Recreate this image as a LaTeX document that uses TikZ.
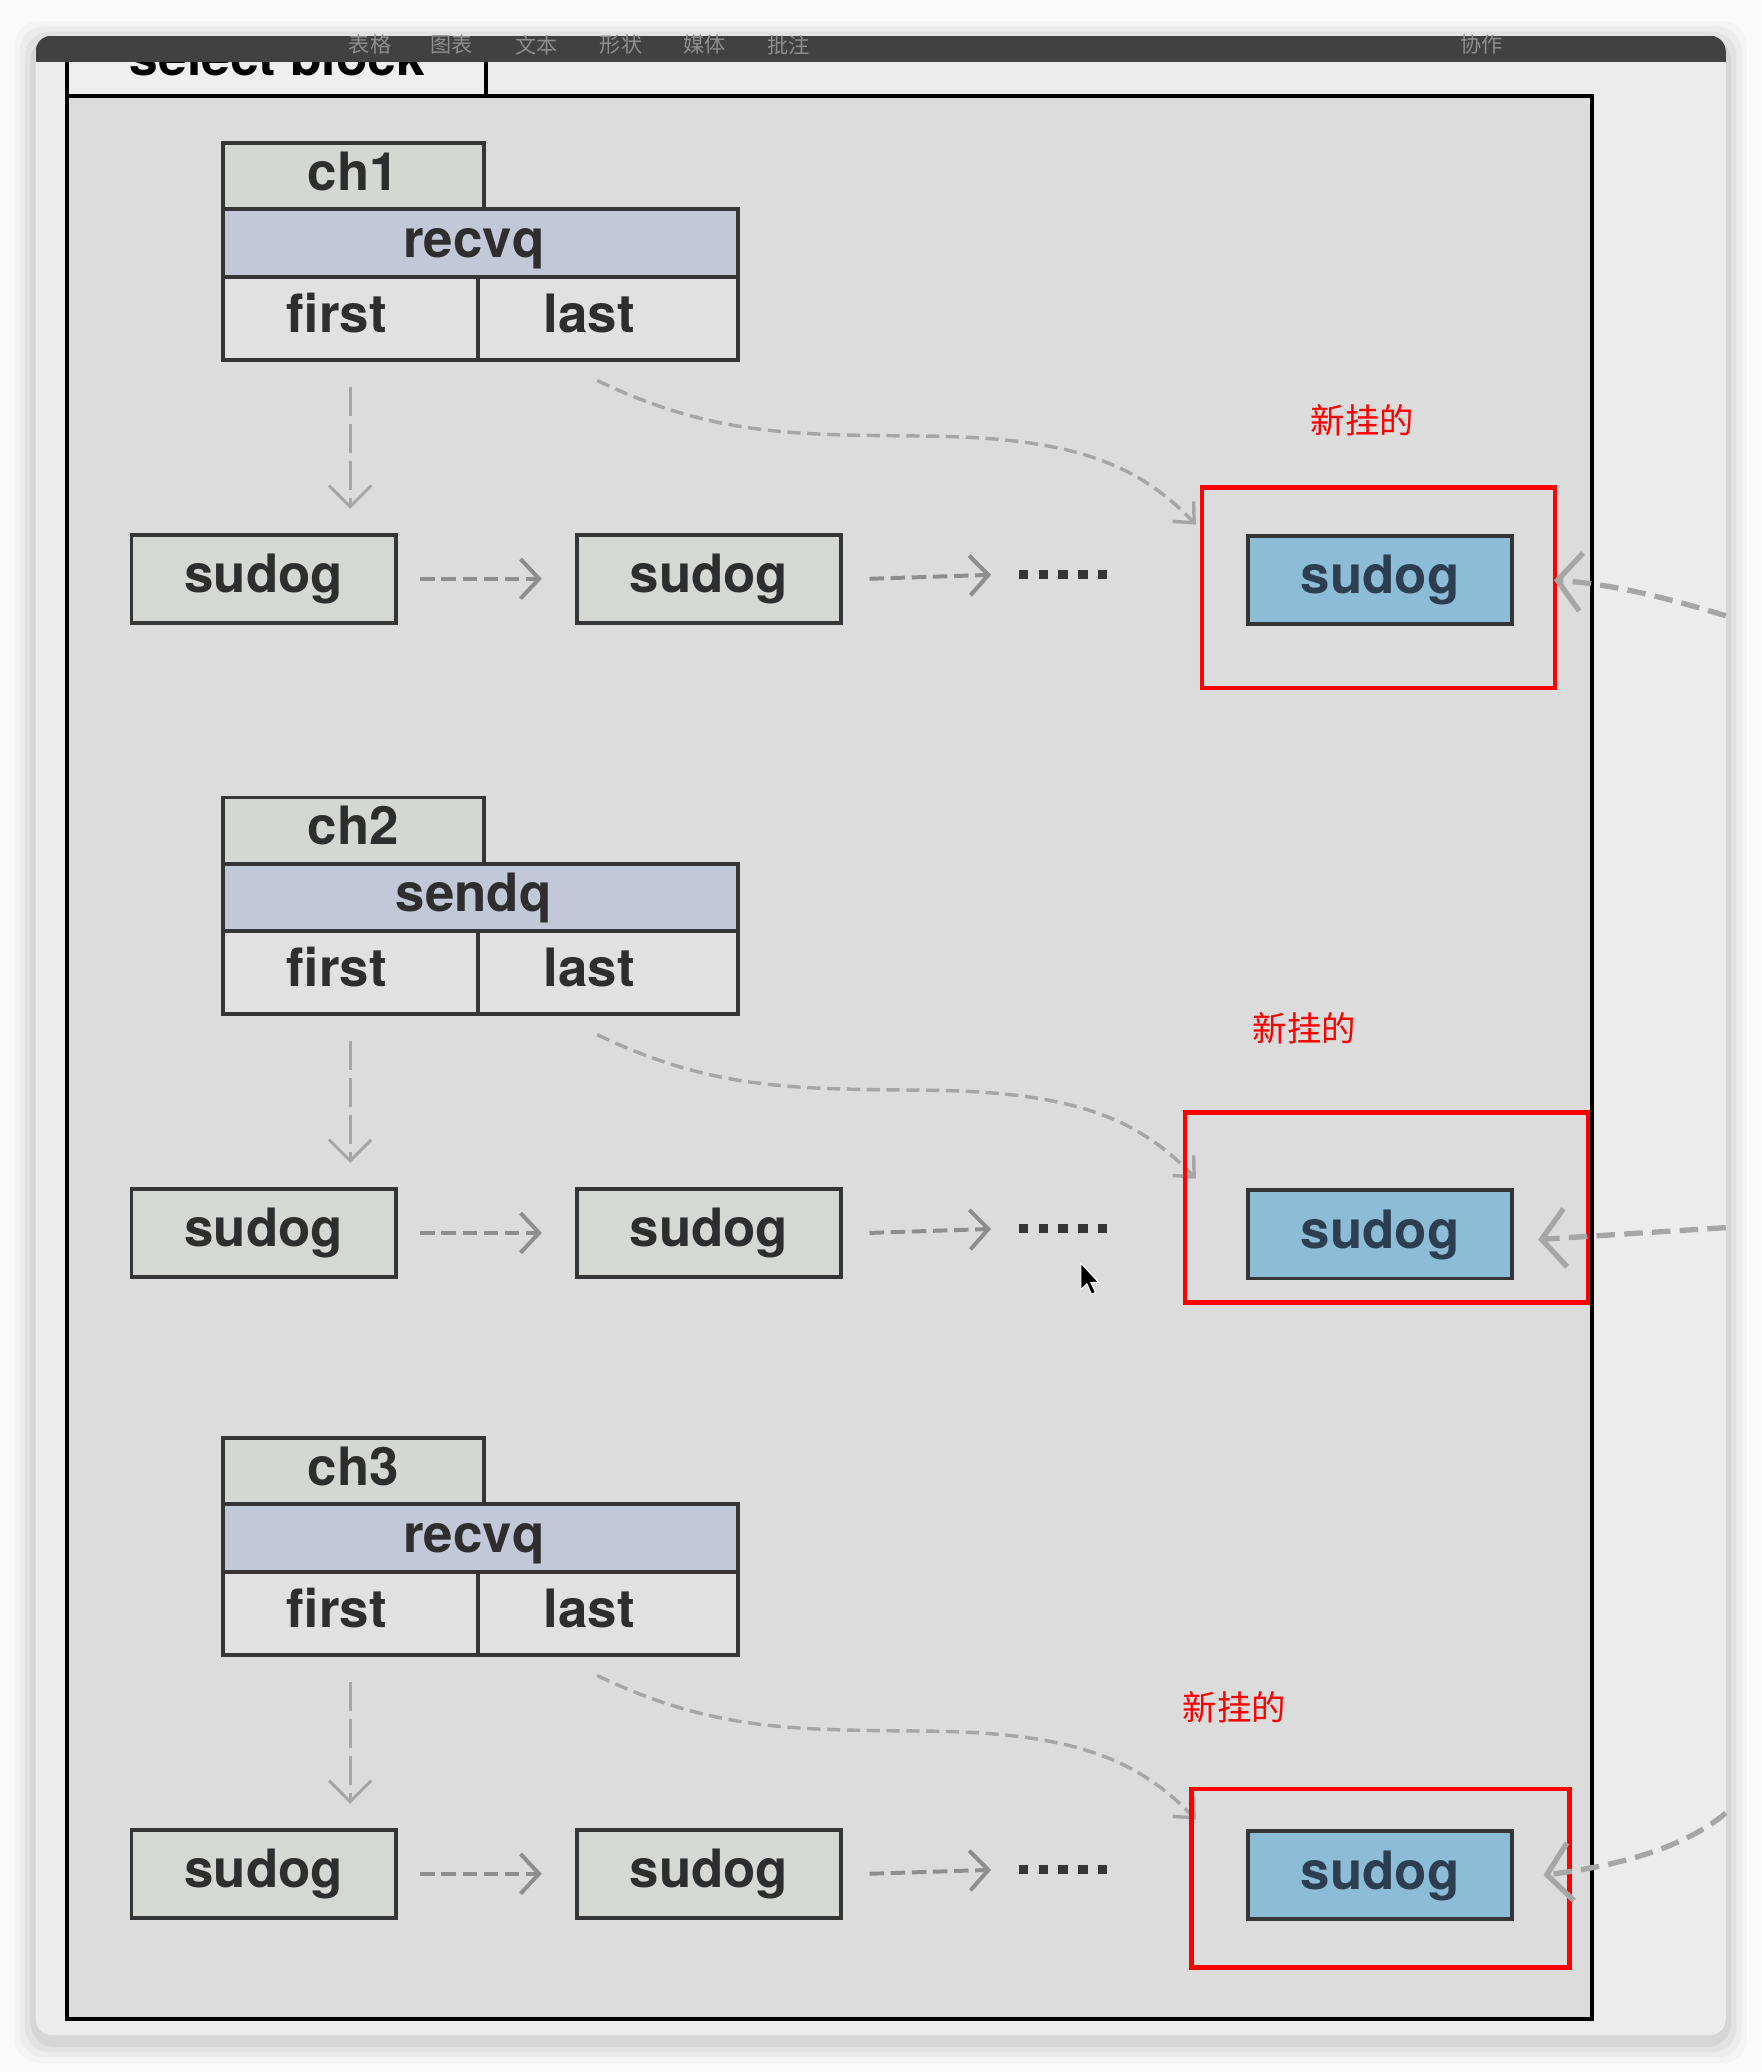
\documentclass[tikz,border=0pt]{standalone}
\usepackage{fontspec}
\setmainfont{TeX Gyre Heros}
\newfontfamily\cjkfont{Noto Sans CJK SC}
\usetikzlibrary{arrows.meta}
\definecolor{pagebg}{HTML}{FAFAFA}
\definecolor{framebg}{HTML}{ECECEC}
\definecolor{barbg}{HTML}{414141}
\definecolor{menutext}{HTML}{8E8E8E}
\definecolor{tabbg}{HTML}{EFEFEF}
\definecolor{panelbg}{HTML}{DCDCDC}
\definecolor{chfill}{HTML}{D5D7D3}
\definecolor{qfill}{HTML}{C3C8D8}
\definecolor{flfill}{HTML}{E1E1E1}
\definecolor{sgfill}{HTML}{D6D8D4}
\definecolor{bluefill}{HTML}{8DBDD6}
\definecolor{boxline}{HTML}{353535}
\definecolor{boxtext}{HTML}{2E2E2E}
\definecolor{bluetext}{HTML}{2C3E50}
\definecolor{arrowgray}{HTML}{8E8E8E}
\definecolor{lightarrow}{HTML}{A6A6A6}
\definecolor{annored}{HTML}{FF0000}
\tikzset{
  cell/.style={draw=boxline, line width=3pt, inner sep=0pt, anchor=north west,
    text=boxtext, font=\fontsize{40}{42}\selectfont\bfseries,
    text height=29pt, text depth=8pt},
  chcell/.style={cell, fill=chfill},
  qcell/.style={cell, fill=qfill},
  flcell/.style={cell, fill=flfill},
  sgcell/.style={cell, fill=sgfill},
  bluecell/.style={cell, fill=bluefill, text=bluetext},
  redbox/.style={draw=annored, line width=3.5pt, inner sep=0pt, anchor=north west},
  annolabel/.style={text=annored, font=\cjkfont\fontsize{26}{28}\selectfont, inner sep=0pt},
  menulabel/.style={text=menutext, font=\cjkfont\fontsize{16}{16}\selectfont, inner sep=0pt},
  harrow/.style={draw=arrowgray, line width=3pt, dash pattern=on 11pt off 5pt,
    -{Straight Barb[length=14pt,width=30pt,line width=3pt]}},
  varrow/.style={draw=lightarrow, line width=2pt, dash pattern=on 22pt off 6pt,
    -{Straight Barb[length=16pt,width=32pt,line width=2.2pt]}},
  carrow/.style={draw=lightarrow, line width=2.6pt, dash pattern=on 10pt off 5pt,
    -{Straight Barb[length=12pt,width=22pt,line width=2.6pt]}},
  inarrow/.style={draw=lightarrow, line width=4pt, dash pattern=on 14pt off 7pt,
    -{Straight Barb[length=18pt,width=44pt,line width=4pt]}},
}
\begin{document}
\begin{tikzpicture}[x=1pt,y=-1pt]
\useasboundingbox (0,0) rectangle (1333,1568);
\fill[pagebg] (0,0) rectangle (1333,1568);
% shadow of the window
\foreach \s/\o in {16/0.025,12/0.03,8/0.04,4/0.05}
  \fill[black,opacity=\o,rounded corners=18] (27-\s,27-\s+5) rectangle (1306+\s,1540+\s+5);
% window
\fill[framebg,rounded corners=12] (27,27) rectangle (1306,1540);
\begin{scope}
  \clip[rounded corners=12] (27,27) rectangle (1306,1540);
  \fill[barbg] (27,27) rectangle (1306,47);
\end{scope}
% menu labels
\node[menulabel] (m1) at (280,34) {表格};
\node[menulabel] (m2) at (342,34) {图表};
\node[menulabel] (m3) at (406,34) {文本};
\node[menulabel] (m4) at (470,34) {形状};
\node[menulabel] (m5) at (533,34) {媒体};
\node[menulabel] (m6) at (597,34) {批注};
\node[menulabel] (m7) at (1121,34) {协作};
% tab "select block" (cut by the bar)
\fill[tabbg] (52,47) rectangle (368,73);
\begin{scope}
  \clip (52,47) rectangle (368,73);
  \node[anchor=base west, inner sep=0pt, text=black,
        font=\fontsize{39}{40}\selectfont\bfseries] (tabtext) at (98,57) {select block};
\end{scope}
\draw[black,line width=3pt] (368,47) -- (368,73);
% main panel
\draw[black,line width=3pt,fill=panelbg] (51,47) -- (51,1528) -- (1205,1528) -- (1205,73) -- (51,73);
\draw[black,line width=3pt] (51,47) -- (51,1528);
% channels
\foreach \k/\dy/\q in {1/0/recvq,2/495/sendq,3/980/recvq}{
  \node[chcell, minimum width=198pt, minimum height=50pt] (ch\k) at (167,107+\dy) {ch\k};
  \node[qcell, minimum width=390pt, minimum height=51pt] (q\k) at (167,157+\dy) {\hspace*{-10pt}\q};
  \node[flcell, minimum width=193pt, minimum height=63pt] (first\k) at (167,208+\dy) {\hspace*{-20pt}first};
  \node[flcell, minimum width=197pt, minimum height=63pt] (last\k) at (360,208+\dy) {\hspace*{-28pt}last};
  \node[sgcell, minimum width=200pt, minimum height=67pt] (sa\k) at (98,403+\dy) {sudog};
  \node[sgcell, minimum width=200pt, minimum height=67pt] (sb\k) at (435,403+\dy) {sudog};
  \node[bluecell, minimum width=200pt, minimum height=67pt] (sn\k) at (943,404+\dy) {sudog};
  \coordinate (dots\k) at (770,435+\dy);
  \foreach \i in {0,...,4}
    \fill[boxline] (771+\i*15,431+\dy) rectangle +(7,7);
  \draw[varrow] ([yshift=-19pt]first\k.south) -- ([yshift=18pt]first\k.south |- sa\k.north);
  \draw[harrow] ([xshift=17pt]sa\k.east) -- ([xshift=-25pt]sb\k.west);
  \draw[harrow] ([xshift=20pt]sb\k.east) -- ([xshift=-20pt]dots\k);
  \draw[carrow] ([xshift=-8pt,yshift=-14pt]last\k.south)
     .. controls (540,330+\dy) and (600,329+\dy) .. (700,330+\dy)
     .. controls (810,331+\dy) and (860,350+\dy) .. ([xshift=-38pt,yshift=7pt]sn\k.north west);
}
% red annotation boxes and labels
\node[redbox, minimum width=267pt, minimum height=152pt] (red1) at (908,367) {};
\node[redbox, minimum width=305pt, minimum height=144pt] (red2) at (895,840) {};
\node[redbox, minimum width=286pt, minimum height=135pt] (red3) at (900,1352) {};
\node[annolabel] (lab1) at (1031,318) {新挂的};
\node[annolabel] (lab2) at (987,778) {新挂的};
\node[annolabel] (lab3) at (934,1292) {新挂的};
% incoming arrows from the right
\coordinate (in1) at (1306,466);
\coordinate (in2) at (1306,929);
\coordinate (in3) at (1306,1372);
\draw[inarrow] (in1) .. controls (1260,452) and (1220,442) .. ([xshift=30pt]sn1.east);
\draw[inarrow] (in2) -- ([xshift=18pt,yshift=-4pt]sn2.east);
\draw[inarrow] (in3) .. controls (1275,1398) and (1225,1412) .. ([xshift=22pt]sn3.east);
% mouse pointer
\filldraw[fill=black,draw=white,line width=0.8pt] (818,956) -- (818,976) -- (822.5,971.5) -- (826,979.5) -- (829,978) -- (825.5,970.5) -- (831.5,970.5) -- cycle;
\end{tikzpicture}
\end{document}
